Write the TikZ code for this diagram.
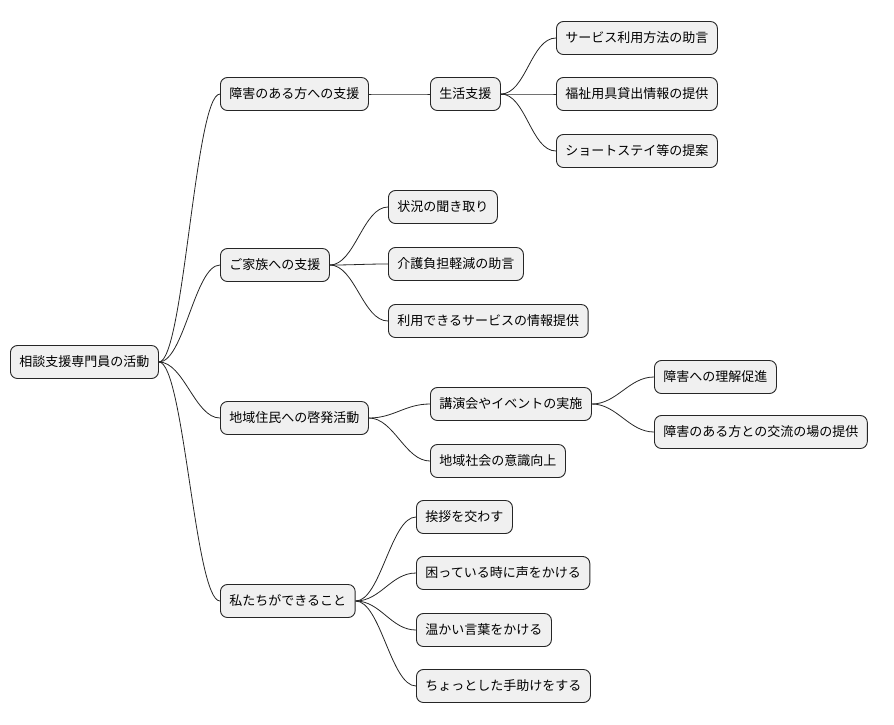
\documentclass[tikz,border=0pt]{standalone}
\usepackage{fontspec}
\setmainfont{Noto Sans CJK JP}
\begin{document}
\begin{tikzpicture}[x=1pt,y=1pt,
  mm/.style={draw=black!85,fill=black!6,rounded corners=7pt,line width=0.9pt,anchor=west,minimum height=33pt,inner xsep=9pt,font=\fontsize{13}{15}\selectfont},
  ln/.style={line width=0.8pt,black!85}]
\useasboundingbox (0,0) rectangle (894,-724);
\node[mm] (r) at (10,-362) {相談支援専門員の活動};
\node[mm] (a) at (220,-94) {障害のある方への支援};
\node[mm] (b) at (220,-265) {ご家族への支援};
\node[mm] (c) at (220,-418) {地域住民への啓発活動};
\node[mm] (d) at (220,-601) {私たちができること};
\node[mm] (a1) at (430,-94) {生活支援};
\node[mm] (a11) at (556,-38) {サービス利用方法の助言};
\node[mm] (a12) at (556,-94) {福祉用具貸出情報の提供};
\node[mm] (a13) at (556,-151) {ショートステイ等の提案};
\node[mm] (b1) at (388,-207) {状況の聞き取り};
\node[mm] (b2) at (388,-264) {介護負担軽減の助言};
\node[mm] (b3) at (388,-321) {利用できるサービスの情報提供};
\node[mm] (c1) at (430,-404) {講演会やイベントの実施};
\node[mm] (c2) at (430,-461) {地域社会の意識向上};
\node[mm] (c11) at (654,-377) {障害への理解促進};
\node[mm] (c12) at (654,-432) {障害のある方との交流の場の提供};
\node[mm] (d1) at (416,-517) {挨拶を交わす};
\node[mm] (d2) at (416,-573) {困っている時に声をかける};
\node[mm] (d3) at (416,-630) {温かい言葉をかける};
\node[mm] (d4) at (416,-686) {ちょっとした手助けをする};
\foreach \p/\c in {r/a,r/b,r/c,r/d,a/a1,a1/a11,a1/a12,a1/a13,b/b1,b/b2,b/b3,c/c1,c/c2,c1/c11,c1/c12,d/d1,d/d2,d/d3,d/d4}
  \draw[ln] (\p.east) .. controls ([xshift=25pt]\p.east) and ([xshift=-25pt]\c.west) .. (\c.west);
\end{tikzpicture}
\end{document}
